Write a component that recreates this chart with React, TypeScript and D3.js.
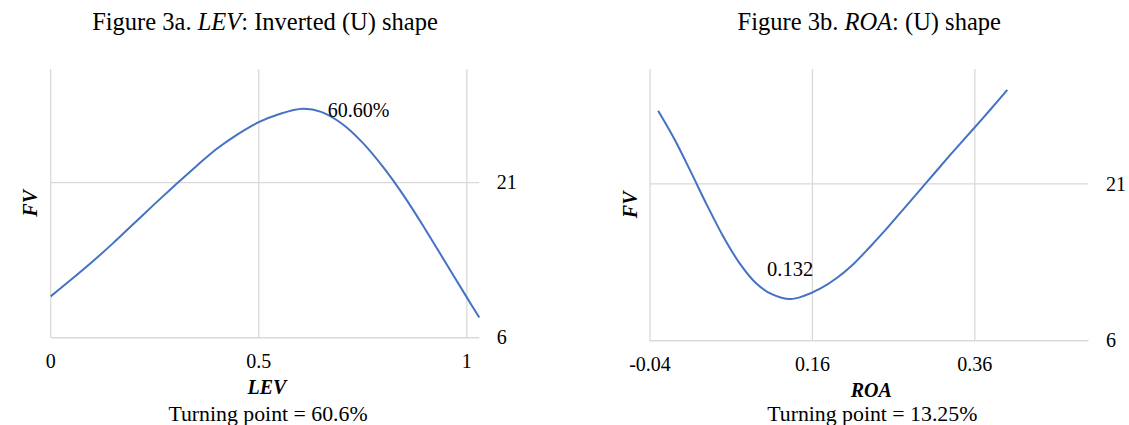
import React from "react";
import * as d3 from "d3";

// ---- Data ----
const LEV_X = [0, 0.05, 0.1, 0.15, 0.2, 0.25, 0.3, 0.35, 0.4, 0.45, 0.5, 0.55, 0.606, 0.65, 0.7, 0.75, 0.8, 0.85, 0.9, 0.95, 1.0, 1.03];
const LEV_FV = [10.0, 11.65, 13.35, 15.15, 17.05, 18.95, 20.8, 22.6, 24.3, 25.7, 26.85, 27.65, 28.15, 27.85, 26.7, 24.85, 22.45, 19.65, 16.5, 13.2, 9.9, 7.95];
const LEV_X_TICKS = [0, 0.5, 1];
const LEV_X_TICK_LABELS = ["0", "0.5", "1"];
const LEV_TURN_X = 0.606;
const LEV_TURN_LABEL = "60.60%";

const ROA_X = [-0.03, -0.01, 0.01, 0.03, 0.05, 0.07, 0.09, 0.11, 0.1325, 0.15, 0.17, 0.19, 0.21, 0.23, 0.25, 0.27, 0.29, 0.31, 0.33, 0.35, 0.37, 0.39, 0.4];
const ROA_FV = [28.0, 25.3, 22.2, 19.0, 16.0, 13.45, 11.55, 10.45, 9.98, 10.3, 11.0, 12.0, 13.3, 14.9, 16.6, 18.4, 20.2, 22.0, 23.8, 25.55, 27.3, 29.1, 30.0];
const ROA_X_TICKS = [-0.04, 0.16, 0.36];
const ROA_X_TICK_LABELS = ["-0.04", "0.16", "0.36"];
const ROA_TURN_X = 0.1325;
const ROA_TURN_LABEL = "0.132";

const Y_TICKS = [6, 21];
const Y_TICK_LABELS = ["6", "21"];

const FONT = "'Liberation Serif', 'Times New Roman', serif";
const LINE_COLOR = "#4472C4";
const GRID_COLOR = "#D9D9D9";
const TEXT_COLOR = "#000";

type PanelProps = {
  xs: number[];
  ys: number[];
  xDomain: [number, number];
  xRange: [number, number];
  yRange: [number, number];
  xTicks: number[];
  xTickLabels: string[];
  turnX: number;
  turnLabel: string;
  labelMode: "right" | "above";
  title: React.ReactNode;
  xTitle: string;
  subtitle: string;
};

function Panel(p: PanelProps) {
  const x = d3.scaleLinear().domain(p.xDomain).range(p.xRange);
  const y = d3.scaleLinear().domain([6, 32]).range(p.yRange);
  const pts = p.xs.map((v, i) => [v, p.ys[i]] as [number, number]);
  const line = d3
    .line<[number, number]>()
    .x((d) => x(d[0]))
    .y((d) => y(d[1]))
    .curve(d3.curveCatmullRom.alpha(0.5));
  const [x0, x1] = p.xRange;
  const [yb, yt] = p.yRange;
  const cx = (x0 + x1) / 2;
  const ti = p.xs.indexOf(p.turnX);
  const tx = x(p.xs[ti]);
  const ty = y(p.ys[ti]);
  return (
    <g>
      <text x={cx} y={30} textAnchor="middle" fontFamily={FONT} fontSize={24.5} fill={TEXT_COLOR}>
        {p.title}
      </text>
      {p.xTicks.map((t) => (
        <line key={"vx" + t} x1={x(t)} x2={x(t)} y1={yt} y2={yb} stroke={GRID_COLOR} strokeWidth={1.3} />
      ))}
      {Y_TICKS.map((t) => (
        <line key={"hy" + t} x1={x0} x2={x1} y1={y(t)} y2={y(t)} stroke={GRID_COLOR} strokeWidth={t === 6 ? 1.6 : 1.3} />
      ))}
      <path d={line(pts) || ""} fill="none" stroke={LINE_COLOR} strokeWidth={2} />
      {p.xTicks.map((t, i) => (
        <text key={"xl" + t} x={x(t)} y={yb + 30} textAnchor="middle" fontFamily={FONT} fontSize={20} fill={TEXT_COLOR}>
          {p.xTickLabels[i]}
        </text>
      ))}
      {Y_TICKS.map((t, i) => (
        <text key={"yl" + t} x={x1 + 17.5} y={y(t)} dy="0.33em" textAnchor="start" fontFamily={FONT} fontSize={20} fill={TEXT_COLOR}>
          {Y_TICK_LABELS[i]}
        </text>
      ))}
      {p.labelMode === "right" ? (
        <text x={tx + 25} y={ty + 8} textAnchor="start" fontFamily={FONT} fontSize={20} fill={TEXT_COLOR}>
          {p.turnLabel}
        </text>
      ) : (
        <text x={tx} y={ty - 23} textAnchor="middle" fontFamily={FONT} fontSize={20.5} fill={TEXT_COLOR}>
          {p.turnLabel}
        </text>
      )}
      <text x={cx + 2} y={yb + 56} textAnchor="middle" fontFamily={FONT} fontSize={20} fontWeight="bold" fontStyle="italic" fill={TEXT_COLOR}>
        {p.xTitle}
      </text>
      <text
        transform={`translate(${x0 - 13.5},${(yt + yb) / 2}) rotate(-90)`}
        textAnchor="middle"
        fontFamily={FONT}
        fontSize={20}
        fontWeight="bold"
        fontStyle="italic"
        fill={TEXT_COLOR}
      >
        FV
      </text>
      <text x={cx + 3} y={420.5} textAnchor="middle" fontFamily={FONT} fontSize={21.8} fill={TEXT_COLOR}>
        {p.subtitle}
      </text>
    </g>
  );
}

export default function App() {
  return (
    <svg
      width={1129}
      height={425}
      style={{ position: "absolute", left: 0, top: 0, background: "#fff" }}
    >
      <rect x={0} y={0} width={1129} height={425} fill="#fff" />
      <Panel
        xs={LEV_X}
        ys={LEV_FV}
        xDomain={[0, 1.03]}
        xRange={[50.7, 479.3]}
        yRange={[337.7, 69]}
        xTicks={LEV_X_TICKS}
        xTickLabels={LEV_X_TICK_LABELS}
        turnX={LEV_TURN_X}
        turnLabel={LEV_TURN_LABEL}
        labelMode="right"
        title={
          <>
            Figure 3a. <tspan fontStyle="italic">LEV</tspan>: Inverted (U) shape
          </>
        }
        xTitle="LEV"
        subtitle="Turning point = 60.6%"
      />
      <Panel
        xs={ROA_X}
        ys={ROA_FV}
        xDomain={[-0.04, 0.5]}
        xRange={[650, 1088.5]}
        yRange={[340.7, 69]}
        xTicks={ROA_X_TICKS}
        xTickLabels={ROA_X_TICK_LABELS}
        turnX={ROA_TURN_X}
        turnLabel={ROA_TURN_LABEL}
        labelMode="above"
        title={
          <>
            Figure 3b. <tspan fontStyle="italic">ROA</tspan>: (U) shape
          </>
        }
        xTitle="ROA"
        subtitle="Turning point = 13.25%"
      />
    </svg>
  );
}
